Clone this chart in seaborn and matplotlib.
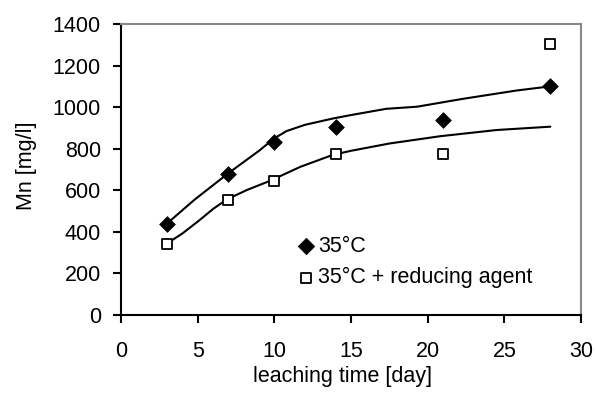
import matplotlib
matplotlib.use("Agg")
import matplotlib.pyplot as plt
import seaborn as sns

# measured points
days = [3, 7, 10, 14, 21, 28]
mn_35 = [440, 680, 830, 905, 940, 1100]
mn_35_red = [340, 555, 645, 775, 775, 1305]

# trend curves
fit_x_35 = [3, 4.8, 7, 9, 10, 10.8, 12, 13.8, 15, 17.3, 19.3, 22.3, 25.8, 28]
fit_y_35 = [440, 555, 682, 790, 850, 885, 915, 945, 962, 992, 1002, 1040, 1080, 1100]
fit_x_red = [3, 4, 5.1, 6, 6.9, 8.2, 9.7, 11.7, 13.8, 15, 17.5, 20.8, 24.5, 28]
fit_y_red = [344, 392, 455, 510, 556, 601, 645, 713, 770, 790, 825, 860, 890, 906]

sns.set_style("white")
plt.rcParams['font.family'] = ['Liberation Sans', 'DejaVu Sans']
plt.rcParams['text.color'] = 'black'
plt.rcParams['axes.labelcolor'] = 'black'
plt.rcParams['xtick.color'] = 'black'
plt.rcParams['ytick.color'] = 'black'

FS = 15.5

fig, ax = plt.subplots(figsize=(5.96, 3.94), dpi=100)
fig.subplots_adjust(left=121/596, right=581/596, top=1-24/394, bottom=1-315/394)

sns.lineplot(x=fit_x_35, y=fit_y_35, ax=ax, color="black", lw=1.5, sort=False, estimator=None)
sns.lineplot(x=fit_x_red, y=fit_y_red, ax=ax, color="black", lw=1.5, sort=False, estimator=None)

sns.scatterplot(x=days, y=mn_35, ax=ax, marker="D", s=64, color="black",
                edgecolor="black", linewidth=0.5, label="35°C", zorder=5)
sns.scatterplot(x=days, y=mn_35_red, ax=ax, marker="s", s=52, facecolor="white",
                edgecolor="black", linewidth=1.3, label="35°C + reducing agent", zorder=5)

ax.set_xlim(0, 30)
ax.set_ylim(0, 1400)
ax.set_xticks(range(0, 31, 5))
ax.set_yticks(range(0, 1401, 200))
ax.tick_params(axis="both", labelsize=FS, direction="out", length=5.5, width=1.5,
               color="black", left=True, bottom=True)
ax.tick_params(axis="x", pad=13.5)
ax.tick_params(axis="y", pad=9)
for s in ["left", "bottom"]:
    ax.spines[s].set_color("black")
    ax.spines[s].set_linewidth(1.5)
for s in ["top", "right"]:
    ax.spines[s].set_color("#888888")
    ax.spines[s].set_linewidth(1.5)

ax.set_xlabel("leaching time [day]", fontsize=FS, labelpad=2.5, x=0.4815)
ax.set_ylabel("Mn [mg/l]", fontsize=FS, labelpad=11, y=0.514)

leg = ax.legend(loc="upper left", bbox_to_anchor=(0.388, 0.271), frameon=False,
                fontsize=FS, handlelength=0.6, handletextpad=0.26, labelspacing=0.47,
                borderaxespad=0, borderpad=0, markerscale=1.05)

fig.savefig("out.png", dpi=100)
